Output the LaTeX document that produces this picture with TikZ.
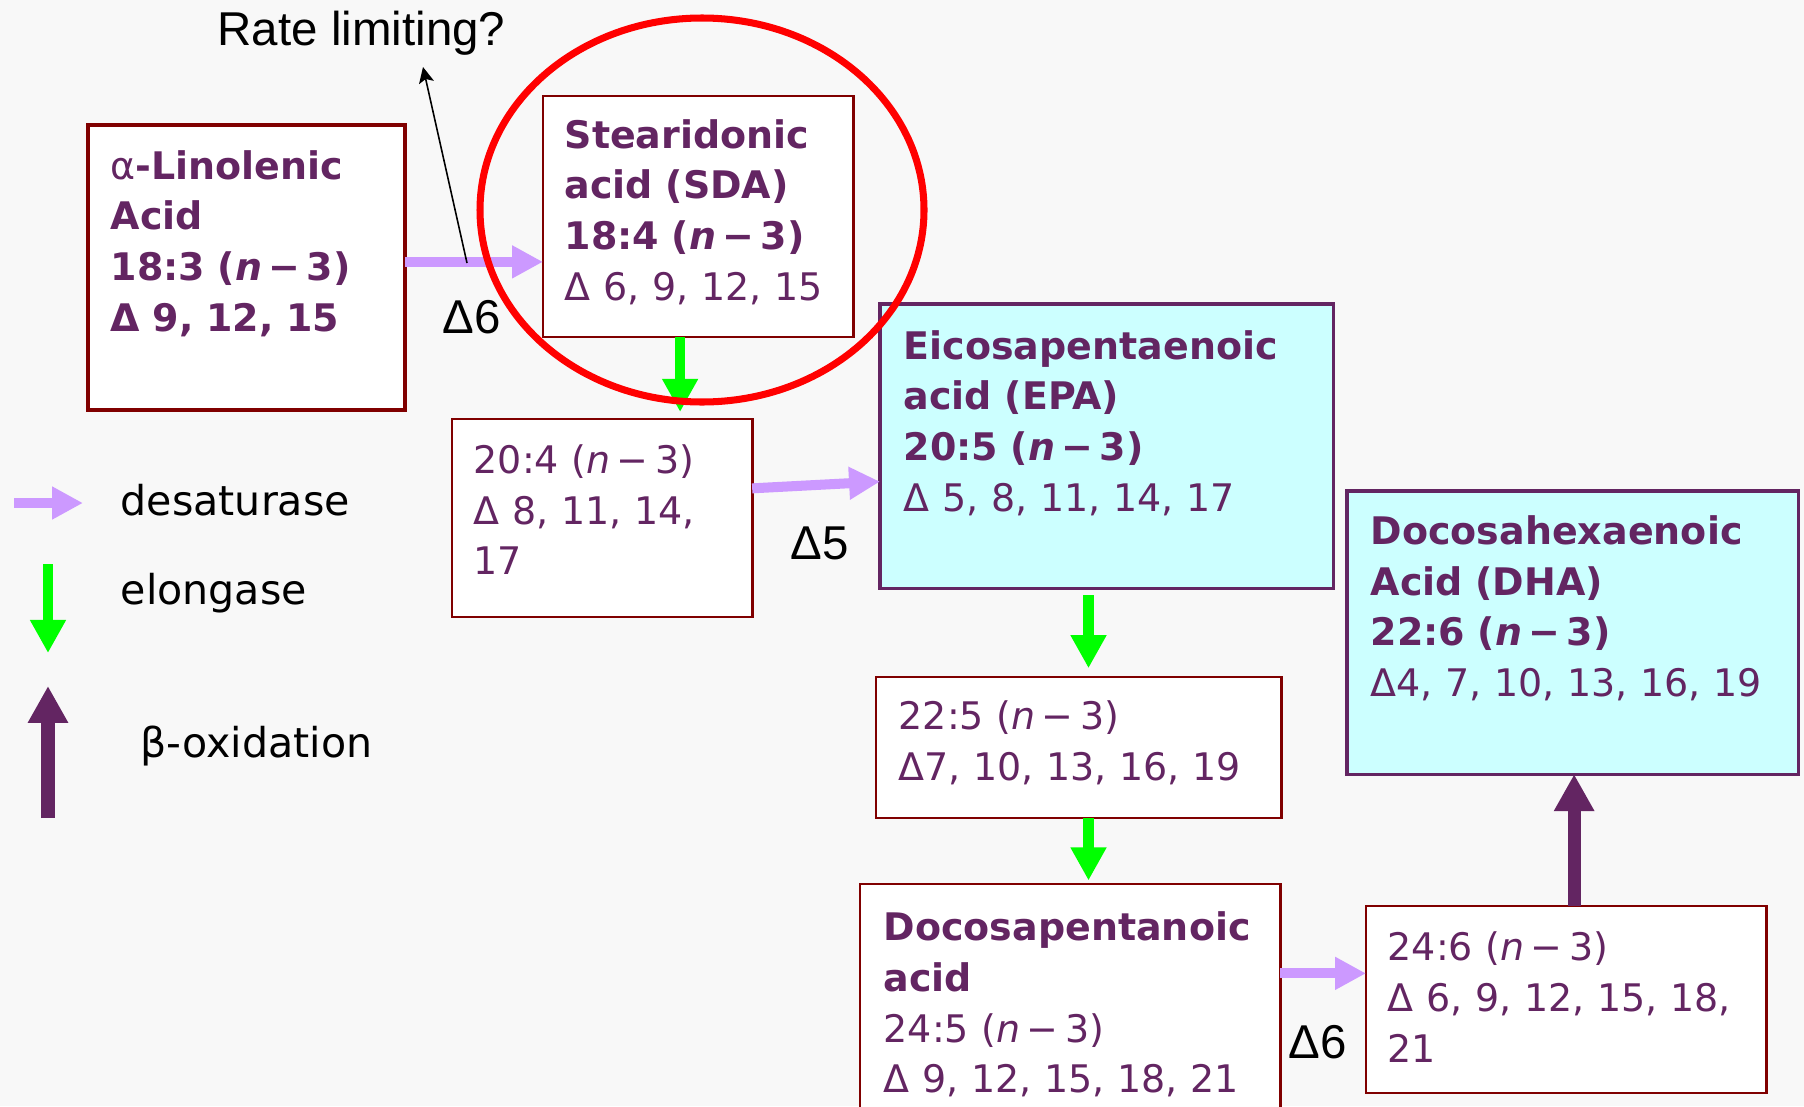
\documentclass[tikz,border=0pt]{standalone}
\usepackage{fontspec}
\setmainfont{DejaVu Sans}
\newfontfamily\labelfont{Liberation Sans}
\usetikzlibrary{arrows.meta}
\usetikzlibrary{calc}

\definecolor{acidpurple}{RGB}{99,37,98}
\definecolor{boxred}{RGB}{128,0,0}
\definecolor{omegafill}{RGB}{204,255,255}
\definecolor{desatcol}{RGB}{204,153,255}
\definecolor{elongcol}{RGB}{0,255,0}
\definecolor{pagebg}{RGB}{248,248,248}

\newcommand{\nthree}{(\textit{n}\,−\,3)}

\tikzset{
  acid/.style={draw=boxred, fill=white, line width=0.75pt, anchor=north west, inner sep=0pt, outer sep=0pt},
  omega/.style={acid, draw=acidpurple, fill=omegafill, line width=0.95pt},
  acidtext/.style={anchor=base west, inner sep=0pt, text width=4.3cm, align=left, text=acidpurple, font=\fontsize{10.8}{14.5}\selectfont},
  desat/.style={draw=desatcol, line width=2.85pt, -{Triangle[length=8.8pt,width=8.8pt]}},
  elong/.style={draw=elongcol, line width=3pt, -{Triangle[length=9.4pt,width=9.6pt]}},
  betaox/.style={draw=acidpurple, line width=3.7pt, -{Triangle[length=10.5pt,width=10.8pt]}},
  enzyme/.style={anchor=base west, inner sep=0pt, font=\labelfont\fontsize{13.5}{16}\selectfont},
  legend/.style={anchor=base west, inner sep=0pt, font=\fontsize{11.7}{14}\selectfont},
}

\begin{document}
\begin{tikzpicture}[x=0.01cm, y=-0.01cm]
\useasboundingbox (0,0) rectangle (1804,1106);
\fill[pagebg] (0,0) rectangle (1804,1106);
\clip (0,0) rectangle (1804,1106);

% boxes
\node[acid, line width=1pt, minimum width=3.17cm, minimum height=2.85cm] (ala) at (88,125) {};
\node[acid, minimum width=3.1cm, minimum height=2.41cm] (sda) at (543,96) {};
\node[acid, minimum width=3cm, minimum height=1.98cm] (b204) at (452,419) {};
\node[omega, minimum width=4.53cm, minimum height=2.84cm] (epa) at (880,304) {};
\node[omega, minimum width=4.51cm, minimum height=2.83cm] (dha) at (1347,491) {};
\node[acid, minimum width=4.05cm, minimum height=1.41cm] (b225) at (876,677) {};
\node[acid, minimum width=4.2cm, minimum height=2.5cm] (dpa) at (860,884) {};
\node[acid, minimum width=4cm, minimum height=1.87cm] (b246) at (1366,906) {};

% texts
\node[acidtext] (ala-t) at ([shift={(22,54)}]ala.north west)
  {\textbf{{\mdseries α}-Linolenic}\\ \textbf{Acid}\\ \textbf{18:3 \nthree}\\ \textbf{Δ 9, 12, 15}};
\node[acidtext] (sda-t) at ([shift={(21,52)}]sda.north west)
  {\textbf{Stearidonic}\\ \textbf{acid (SDA)}\\ \textbf{18:4 \nthree}\\ Δ 6, 9, 12, 15};
\node[acidtext] (b204-t) at ([shift={(21,54)}]b204.north west)
  {20:4 \nthree\\ Δ 8, 11, 14,\\ 17};
\node[acidtext] (epa-t) at ([shift={(23,55)}]epa.north west)
  {\textbf{Eicosapentaenoic}\\ \textbf{acid (EPA)}\\ \textbf{20:5 \nthree}\\ Δ 5, 8, 11, 14, 17};
\node[acidtext] (dha-t) at ([shift={(23,53)}]dha.north west)
  {\textbf{Docosahexaenoic}\\ \textbf{Acid (DHA)}\\ \textbf{22:6 \nthree}\\ Δ4, 7, 10, 13, 16, 19};
\node[acidtext] (b225-t) at ([shift={(22,52)}]b225.north west)
  {22:5 \nthree\\ Δ7, 10, 13, 16, 19};
\node[acidtext] (dpa-t) at ([shift={(23,56)}]dpa.north west)
  {\textbf{Docosapentanoic}\\ \textbf{acid}\\ 24:5 \nthree\\ Δ 9, 12, 15, 18, 21};
\node[acidtext] (b246-t) at ([shift={(21,54)}]b246.north west)
  {24:6 \nthree\\ Δ 6, 9, 12, 15, 18,\\ 21};

% desaturase / elongase steps
\draw[desat] ($(ala.north east)!0.48!(ala.south east)$) coordinate (s1) -- (s1 -| sda.west);
\draw[elong, shorten >=2pt] ($(sda.south west)!0.442!(sda.south east)$) coordinate (s2) -- (s2 |- b204.north);
\draw[desat] ($(b204.north east)!0.35!(b204.south east)$) -- ($(epa.north west)!0.625!(epa.south west)$);
\draw[elong, shorten <=2pt, shorten >=2.5pt] ($(epa.south west)!0.46!(epa.south east)$) coordinate (s3) -- (s3 |- b225.north);
\draw[elong, shorten >=1pt] (s3 |- b225.south) -- (s3 |- dpa.north);
\coordinate (s4) at ($(b246.north west)!0.36!(b246.south west)$);
\draw[desat] (s4 -| dpa.east) -- (s4);
\draw[betaox] ($(b246.north west)!0.52!(b246.north east)$) coordinate (s5) -- (s5 |- dha.south);

% enzyme labels
\node[enzyme] (d6a) at (442,333) {Δ6};
\node[enzyme] (d5) at (790,559) {Δ5};
\node[enzyme] (d6b) at (1288,1058) {Δ6};
\node[enzyme] (rate) at (217,45) {Rate limiting?};
\coordinate (rl-foot) at (467,263);
\coordinate (rl-tip) at (423,67);
\draw[line width=0.45pt, -{Stealth[length=4.5pt,width=4.3pt,inset=1pt]}] (rl-foot) -- (rl-tip);

% legend
\node[legend] (leg-desat) at (120,515) {desaturase};
\node[legend] (leg-elong) at (120,604) {elongase};
\node[legend] (leg-beta) at (140,757) {β-oxidation};
\coordinate (k1) at (14,503);
\coordinate (k2) at (83,503);
\coordinate (k3) at (48,564);
\coordinate (k4) at (48,653);
\coordinate (k5) at (48,818);
\coordinate (k6) at (48,686);
\draw[desat] (k1) -- (k2);
\draw[elong] (k3) -- (k4);
\draw[betaox] (k5) -- (k6);

% the rate limiting step
\draw[red, line width=2pt] (702,210) ellipse [x radius=222, y radius=192];
\end{tikzpicture}
\end{document}
